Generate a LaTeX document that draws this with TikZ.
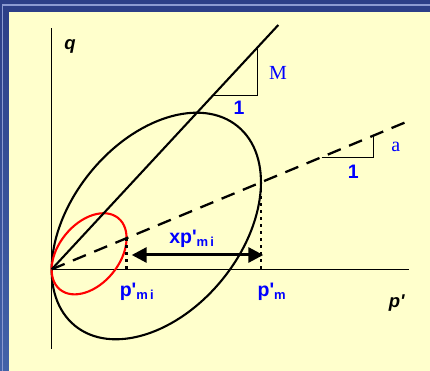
\documentclass[tikz,border=0pt]{standalone}
\usepackage{fontspec}
\setmainfont{Liberation Sans}
\newfontfamily\timesfont{Liberation Serif}
\usetikzlibrary{arrows.meta}
\definecolor{frameblue}{HTML}{2C3F88}
\definecolor{framemid}{HTML}{4262A8}
\definecolor{framelight}{HTML}{8C9BD2}
\definecolor{paper}{HTML}{FFFFCC}
\definecolor{lblblue}{HTML}{0000FF}
\definecolor{surfred}{HTML}{FF0000}
\newcommand{\pr}{\XeTeXglyph\XeTeXglyphindex "quotesingle"\relax}
\newcommand{\subtxt}[1]{\raisebox{-3pt}{\fontsize{13}{13}\selectfont #1}}

\begin{document}
\begin{tikzpicture}[x=1pt, y=1pt,
  axisline/.style={line width=0.9pt},
  csline/.style={line width=2.1pt},
  slopetri/.style={line width=0.9pt},
  ptxt/.style={text=lblblue, font=\bfseries\fontsize{19.5}{19.5}\selectfont, inner sep=0pt},
  slopetxt/.style={text=lblblue, font=\timesfont\fontsize{20}{20}\selectfont, inner sep=0pt},
  axtxt/.style={text=black, font=\bfseries\itshape\fontsize{18.5}{18.5}\selectfont, inner sep=0pt},
  dotv/.style={line width=2.6pt, dash pattern=on 3pt off 4pt},
]
\useasboundingbox (-51.7,-101.7) rectangle (378.3,269.3);
% slide frame
\fill[frameblue] (-51.7,-101.7) rectangle (378.3,269.3);
\shade[top color=frameblue, bottom color=framemid] (-51.7,-101.7) rectangle (-42.7,257.3);
\fill[framelight] (-49.4,-101.7) rectangle (-48.4,264.8);
\fill[framelight] (-49.4,263.6) rectangle (378.3,265);
\fill[paper] (-42.7,-101.7) rectangle (378.3,257.3);

\coordinate (O) at (0,0);
\coordinate (qtop) at (0,241.6);
\coordinate (qbot) at (0,-79.7);
\coordinate (pend) at (357.3,0);
\coordinate (Mend) at (226.6,244.3);
\coordinate (aend) at (357.6,148.6);
\coordinate (cB) at (104.6,43.3);
\coordinate (cR) at (37.4,15.5);

% axes
\draw[axisline] (qbot) -- (qtop);
\draw[axisline] (O) -- (pend);

% yield surfaces
\draw[csline] (cB) ellipse [x radius=128.7pt, y radius=85pt, rotate=50.8];
\draw[csline, surfred] (cR) ellipse [x radius=46.1pt, y radius=30.4pt, rotate=50.8];

% CSL and line of slope a
\draw[csline] (O) -- (Mend);
\draw[line width=2.3pt, dash pattern=on 14pt off 9pt] (O) -- (aend);

% slope triangles
\coordinate (M1) at (161.6,173.6);
\coordinate (M2) at (205.6,173.6);
\coordinate (M3) at (205.6,221.6);
\draw[slopetri] (M1) -- (M2) -- (M3);
\coordinate (a1) at (270,112.2);
\coordinate (a2) at (321.6,112.2);
\coordinate (a3) at (321.6,133.7);
\draw[slopetri] (a1) -- (a2) -- (a3);
\node[slopetxt] (lM) at (226.3,196.3) {M};
\node[ptxt] (oneM) at (187.3,161.3) {1};
\node[slopetxt] (la) at (344,122) {a};
\node[ptxt] (onea) at (301.6,97.6) {1};

% p'_mi and p'_m
\coordinate (pmitop) at (74.9,31.1);
\coordinate (pmi) at (74.9,0);
\coordinate (pmtop) at (209.3,87);
\coordinate (pm) at (209.3,0);
\draw[dotv] (pmitop) -- (pmi);
\draw[dotv] (pmtop) -- (pm);
\coordinate (arl) at (80,14.3);
\coordinate (arr) at (211.6,14.3);
\draw[line width=3pt, {Triangle[length=15pt,width=15pt]}-{Triangle[length=15pt,width=15pt]}] (arl) -- (arr);
\node[ptxt] (lx) at (140,30) {xp\pr\subtxt{m\,i}};
\node[ptxt] (lpmi) at (85,-23) {p\pr\subtxt{m\,i}};
\node[ptxt] (lpm) at (220,-23) {p\pr\subtxt{m}};

\node[axtxt] (lp) at (345,-34) {p\pr};
\node[axtxt] (lq) at (18.3,222.6) {q};
\end{tikzpicture}
\end{document}
